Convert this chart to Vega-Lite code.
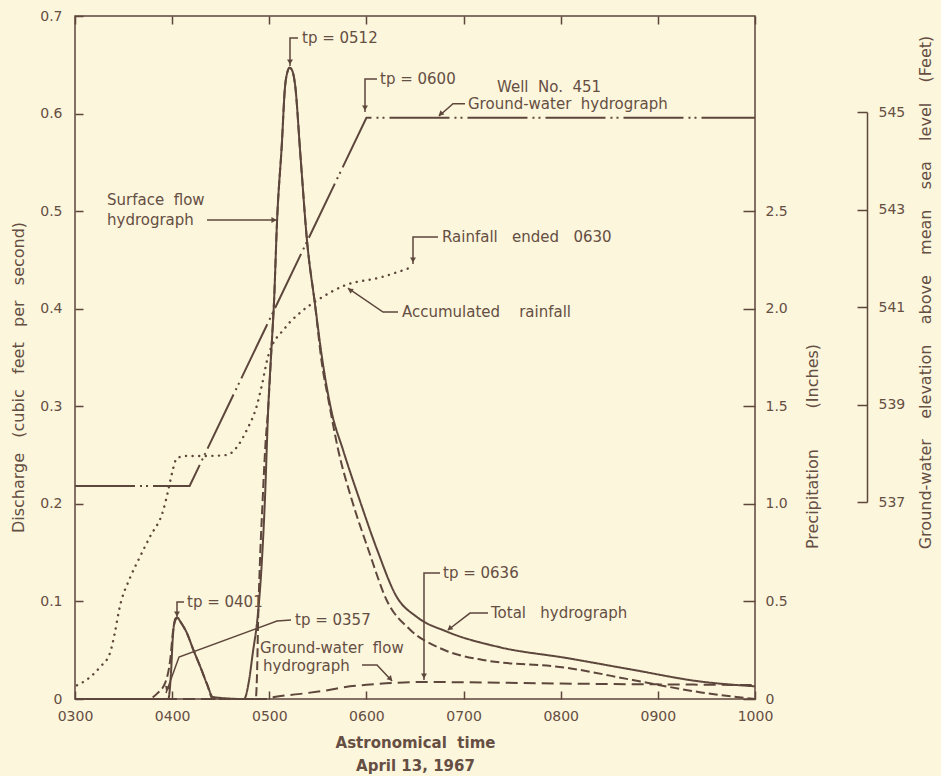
{
  "$schema": "https://vega.github.io/schema/vega-lite/v6.json",
  "width": 680,
  "height": 683,
  "autosize": {"type": "none"},
  "padding": {"left": 75, "top": 16, "right": 186, "bottom": 77},
  "background": "#fcf6dc",
  "config": {
    "view": {"stroke": "#5d463b", "strokeWidth": 1.5},
    "font": "DejaVu Sans",
    "axis": {
      "labelColor": "#654e43", "titleColor": "#654e43", "tickColor": "#5d463b", "domainColor": "#5d463b",
      "labelFont": "DejaVu Sans", "titleFont": "DejaVu Sans", "labelFontSize": 14, "titleFontSize": 16,
      "titleFontWeight": "normal", "grid": false, "tickWidth": 1.5, "domainWidth": 1.5, "labelFlush": false
    }
  },
  "datasets": {
    "flow": [
      {"series": "Total hydrograph", "t": 3.0, "q": 0},
      {"series": "Total hydrograph", "t": 3.96, "q": 0},
      {"series": "Total hydrograph", "t": 3.99, "q": 0.03},
      {"series": "Total hydrograph", "t": 4.005, "q": 0.06},
      {"series": "Total hydrograph", "t": 4.02, "q": 0.077},
      {"series": "Total hydrograph", "t": 4.04, "q": 0.083},
      {"series": "Total hydrograph", "t": 4.06, "q": 0.083},
      {"series": "Total hydrograph", "t": 4.08, "q": 0.08},
      {"series": "Total hydrograph", "t": 4.15, "q": 0.068},
      {"series": "Total hydrograph", "t": 4.22, "q": 0.05},
      {"series": "Total hydrograph", "t": 4.29, "q": 0.033},
      {"series": "Total hydrograph", "t": 4.36, "q": 0.015},
      {"series": "Total hydrograph", "t": 4.42, "q": 0.002},
      {"series": "Total hydrograph", "t": 4.74, "q": 0},
      {"series": "Total hydrograph", "t": 4.79, "q": 0.018},
      {"series": "Total hydrograph", "t": 4.83, "q": 0.047},
      {"series": "Total hydrograph", "t": 4.88, "q": 0.084},
      {"series": "Total hydrograph", "t": 4.92, "q": 0.135},
      {"series": "Total hydrograph", "t": 4.955, "q": 0.204},
      {"series": "Total hydrograph", "t": 4.99, "q": 0.3},
      {"series": "Total hydrograph", "t": 5.02, "q": 0.355},
      {"series": "Total hydrograph", "t": 5.05, "q": 0.41},
      {"series": "Total hydrograph", "t": 5.08, "q": 0.49},
      {"series": "Total hydrograph", "t": 5.13, "q": 0.57},
      {"series": "Total hydrograph", "t": 5.16, "q": 0.625},
      {"series": "Total hydrograph", "t": 5.185, "q": 0.642},
      {"series": "Total hydrograph", "t": 5.21, "q": 0.647},
      {"series": "Total hydrograph", "t": 5.24, "q": 0.643},
      {"series": "Total hydrograph", "t": 5.265, "q": 0.63},
      {"series": "Total hydrograph", "t": 5.32, "q": 0.558},
      {"series": "Total hydrograph", "t": 5.39, "q": 0.468},
      {"series": "Total hydrograph", "t": 5.47, "q": 0.405},
      {"series": "Total hydrograph", "t": 5.55, "q": 0.345},
      {"series": "Total hydrograph", "t": 5.64, "q": 0.295},
      {"series": "Total hydrograph", "t": 5.76, "q": 0.255},
      {"series": "Total hydrograph", "t": 5.93, "q": 0.204},
      {"series": "Total hydrograph", "t": 6.11, "q": 0.153},
      {"series": "Total hydrograph", "t": 6.31, "q": 0.105},
      {"series": "Total hydrograph", "t": 6.52, "q": 0.084},
      {"series": "Total hydrograph", "t": 6.83, "q": 0.069},
      {"series": "Total hydrograph", "t": 7.375, "q": 0.053},
      {"series": "Total hydrograph", "t": 8.06, "q": 0.042},
      {"series": "Total hydrograph", "t": 8.74, "q": 0.03},
      {"series": "Total hydrograph", "t": 9.43, "q": 0.018},
      {"series": "Total hydrograph", "t": 10.0, "q": 0.013},
      {"series": "Surface flow hydrograph", "t": 3.0, "q": 0},
      {"series": "Surface flow hydrograph", "t": 3.75, "q": 0},
      {"series": "Surface flow hydrograph", "t": 3.85, "q": 0.006},
      {"series": "Surface flow hydrograph", "t": 3.93, "q": 0.017},
      {"series": "Surface flow hydrograph", "t": 3.98, "q": 0.04},
      {"series": "Surface flow hydrograph", "t": 4.01, "q": 0.07},
      {"series": "Surface flow hydrograph", "t": 4.04, "q": 0.082},
      {"series": "Surface flow hydrograph", "t": 4.06, "q": 0.083},
      {"series": "Surface flow hydrograph", "t": 4.08, "q": 0.08},
      {"series": "Surface flow hydrograph", "t": 4.15, "q": 0.068},
      {"series": "Surface flow hydrograph", "t": 4.22, "q": 0.05},
      {"series": "Surface flow hydrograph", "t": 4.29, "q": 0.033},
      {"series": "Surface flow hydrograph", "t": 4.36, "q": 0.015},
      {"series": "Surface flow hydrograph", "t": 4.42, "q": 0},
      {"series": "Surface flow hydrograph", "t": 4.86, "q": 0},
      {"series": "Surface flow hydrograph", "t": 4.875, "q": 0.03},
      {"series": "Surface flow hydrograph", "t": 4.885, "q": 0.08},
      {"series": "Surface flow hydrograph", "t": 4.9, "q": 0.13},
      {"series": "Surface flow hydrograph", "t": 4.93, "q": 0.2},
      {"series": "Surface flow hydrograph", "t": 4.96, "q": 0.26},
      {"series": "Surface flow hydrograph", "t": 4.99, "q": 0.3},
      {"series": "Surface flow hydrograph", "t": 5.02, "q": 0.355},
      {"series": "Surface flow hydrograph", "t": 5.05, "q": 0.41},
      {"series": "Surface flow hydrograph", "t": 5.08, "q": 0.49},
      {"series": "Surface flow hydrograph", "t": 5.13, "q": 0.57},
      {"series": "Surface flow hydrograph", "t": 5.16, "q": 0.625},
      {"series": "Surface flow hydrograph", "t": 5.185, "q": 0.642},
      {"series": "Surface flow hydrograph", "t": 5.21, "q": 0.647},
      {"series": "Surface flow hydrograph", "t": 5.24, "q": 0.643},
      {"series": "Surface flow hydrograph", "t": 5.265, "q": 0.63},
      {"series": "Surface flow hydrograph", "t": 5.32, "q": 0.558},
      {"series": "Surface flow hydrograph", "t": 5.39, "q": 0.468},
      {"series": "Surface flow hydrograph", "t": 5.47, "q": 0.405},
      {"series": "Surface flow hydrograph", "t": 5.54, "q": 0.345},
      {"series": "Surface flow hydrograph", "t": 5.61, "q": 0.306},
      {"series": "Surface flow hydrograph", "t": 5.71, "q": 0.255},
      {"series": "Surface flow hydrograph", "t": 5.85, "q": 0.204},
      {"series": "Surface flow hydrograph", "t": 6.02, "q": 0.153},
      {"series": "Surface flow hydrograph", "t": 6.21, "q": 0.101},
      {"series": "Surface flow hydrograph", "t": 6.45, "q": 0.071},
      {"series": "Surface flow hydrograph", "t": 6.76, "q": 0.052},
      {"series": "Surface flow hydrograph", "t": 7.2, "q": 0.04},
      {"series": "Surface flow hydrograph", "t": 8.06, "q": 0.032},
      {"series": "Surface flow hydrograph", "t": 8.74, "q": 0.0195},
      {"series": "Surface flow hydrograph", "t": 9.43, "q": 0.007},
      {"series": "Surface flow hydrograph", "t": 10.0, "q": 0},
      {"series": "Ground-water flow hydrograph", "t": 3.0, "q": 0},
      {"series": "Ground-water flow hydrograph", "t": 5.0, "q": 0},
      {"series": "Ground-water flow hydrograph", "t": 5.05, "q": 0.002},
      {"series": "Ground-water flow hydrograph", "t": 5.3, "q": 0.005},
      {"series": "Ground-water flow hydrograph", "t": 5.6, "q": 0.009},
      {"series": "Ground-water flow hydrograph", "t": 5.83, "q": 0.013},
      {"series": "Ground-water flow hydrograph", "t": 6.0, "q": 0.0145},
      {"series": "Ground-water flow hydrograph", "t": 6.27, "q": 0.0164},
      {"series": "Ground-water flow hydrograph", "t": 6.6, "q": 0.0174},
      {"series": "Ground-water flow hydrograph", "t": 7.0, "q": 0.0172},
      {"series": "Ground-water flow hydrograph", "t": 8.0, "q": 0.0158},
      {"series": "Ground-water flow hydrograph", "t": 9.0, "q": 0.015},
      {"series": "Ground-water flow hydrograph", "t": 10.0, "q": 0.0143}
    ],
    "rain": [
      {"t": 3.02, "p": 0.07}, {"t": 3.15, "p": 0.11}, {"t": 3.26, "p": 0.165}, {"t": 3.36, "p": 0.235},
      {"t": 3.41, "p": 0.34}, {"t": 3.46, "p": 0.47}, {"t": 3.566, "p": 0.62}, {"t": 3.66, "p": 0.72},
      {"t": 3.77, "p": 0.83}, {"t": 3.91, "p": 0.97}, {"t": 3.96, "p": 1.07}, {"t": 4.0, "p": 1.16},
      {"t": 4.05, "p": 1.235}, {"t": 4.15, "p": 1.245}, {"t": 4.32, "p": 1.245}, {"t": 4.56, "p": 1.25},
      {"t": 4.665, "p": 1.29}, {"t": 4.77, "p": 1.38}, {"t": 4.87, "p": 1.5}, {"t": 4.92, "p": 1.6},
      {"t": 4.99, "p": 1.76}, {"t": 5.16, "p": 1.9}, {"t": 5.33, "p": 1.985}, {"t": 5.5, "p": 2.045},
      {"t": 5.78, "p": 2.12}, {"t": 6.14, "p": 2.16}, {"t": 6.48, "p": 2.215}
    ],
    "well": [
      {"t": 3.0, "elev": 537.33}, {"t": 4.18, "elev": 537.33}, {"t": 6.0, "elev": 544.88}, {"t": 10.0, "elev": 544.88}
    ],
    "notes": [
      {"label": "tp = 0512", "t": 5.3368, "q": 0.6775},
      {"label": "tp = 0600", "t": 6.1397, "q": 0.6354},
      {"label": "Well\u00a0 No.\u00a0 451", "t": 7.3441, "q": 0.6272},
      {"label": "Ground-water\u00a0 hydrograph", "t": 7.0456, "q": 0.6098},
      {"label": "Rainfall\u00a0\u00a0 ended\u00a0\u00a0 0630", "t": 6.778, "q": 0.4735},
      {"label": "Accumulated\u00a0\u00a0\u00a0 rainfall", "t": 6.3662, "q": 0.3966},
      {"label": "Surface\u00a0 flow", "t": 3.3294, "q": 0.5114},
      {"label": "hydrograph", "t": 3.3294, "q": 0.4909},
      {"label": "tp = 0401", "t": 4.1529, "q": 0.0994},
      {"label": "tp = 0357", "t": 5.2647, "q": 0.081},
      {"label": "Ground-water\u00a0 flow", "t": 4.9044, "q": 0.0523},
      {"label": "hydrograph", "t": 4.9353, "q": 0.0338},
      {"label": "tp = 0636", "t": 6.7882, "q": 0.1291},
      {"label": "Total\u00a0\u00a0 hydrograph", "t": 7.2824, "q": 0.0881}
    ],
    "leaders": [
      {"id": "L1", "ord": 1, "t": 5.2956, "q": 0.6775}, {"id": "L1", "ord": 2, "t": 5.2132, "q": 0.6775}, {"id": "L1", "ord": 3, "t": 5.2132, "q": 0.6488},
      {"id": "L2", "ord": 1, "t": 6.1088, "q": 0.6354}, {"id": "L2", "ord": 2, "t": 5.9853, "q": 0.6354}, {"id": "L2", "ord": 3, "t": 5.9853, "q": 0.6016},
      {"id": "L3", "ord": 1, "t": 7.0147, "q": 0.6101}, {"id": "L3", "ord": 2, "t": 6.8912, "q": 0.6101}, {"id": "L3", "ord": 3, "t": 6.7471, "q": 0.5975},
      {"id": "L4", "ord": 1, "t": 6.7368, "q": 0.4735}, {"id": "L4", "ord": 2, "t": 6.4794, "q": 0.4735}, {"id": "L4", "ord": 3, "t": 6.4794, "q": 0.4458},
      {"id": "L5", "ord": 1, "t": 6.325, "q": 0.3966}, {"id": "L5", "ord": 2, "t": 6.171, "q": 0.3966}, {"id": "L5", "ord": 3, "t": 5.8103, "q": 0.4212},
      {"id": "L6", "ord": 1, "t": 4.3588, "q": 0.4909}, {"id": "L6", "ord": 2, "t": 5.0691, "q": 0.4909},
      {"id": "L7", "ord": 1, "t": 4.1221, "q": 0.0994}, {"id": "L7", "ord": 2, "t": 4.05, "q": 0.0994}, {"id": "L7", "ord": 3, "t": 4.05, "q": 0.083},
      {"id": "L8", "ord": 1, "t": 5.2235, "q": 0.081}, {"id": "L8", "ord": 2, "t": 5.0794, "q": 0.0799}, {"id": "L8", "ord": 3, "t": 4.0706, "q": 0.043}, {"id": "L8", "ord": 4, "t": 3.9368, "q": 0.0062},
      {"id": "L9", "ord": 1, "t": 5.9544, "q": 0.0349}, {"id": "L9", "ord": 2, "t": 6.1088, "q": 0.0349}, {"id": "L9", "ord": 3, "t": 6.2632, "q": 0.0185},
      {"id": "L10", "ord": 1, "t": 6.7574, "q": 0.1291}, {"id": "L10", "ord": 2, "t": 6.5926, "q": 0.1291}, {"id": "L10", "ord": 3, "t": 6.5926, "q": 0.0195},
      {"id": "L11", "ord": 1, "t": 7.2515, "q": 0.0881}, {"id": "L11", "ord": 2, "t": 7.0662, "q": 0.0881}, {"id": "L11", "ord": 3, "t": 6.8397, "q": 0.0707}
    ],
    "arrows": [
      {"t": 5.2132, "q": 0.6528, "heading": 180},
      {"t": 5.9853, "q": 0.6057, "heading": 180},
      {"t": 6.7625, "q": 0.5995, "heading": 229},
      {"t": 6.4794, "q": 0.4499, "heading": 180},
      {"t": 5.8309, "q": 0.4192, "heading": 304},
      {"t": 5.0485, "q": 0.4909, "heading": 90},
      {"t": 4.05, "q": 0.0871, "heading": 180},
      {"t": 3.9471, "q": 0.0103, "heading": 200},
      {"t": 6.248, "q": 0.0205, "heading": 137},
      {"t": 6.5926, "q": 0.0236, "heading": 180},
      {"t": 6.855, "q": 0.0722, "heading": 232}
    ]
  },
  "layer": [
    {
      "data": {"name": "flow"},
      "mark": {"type": "line", "strokeWidth": 2, "color": "#5d463b", "interpolate": "monotone"},
      "encoding": {
        "x": {"field": "t", "type": "quantitative", "scale": {"domain": [3, 10], "nice": false, "zero": false},
          "axis": {"orient": "bottom", "values": [3, 4, 5, 6, 7, 8, 9, 10],
            "labelExpr": "(datum.value < 10 ? '0' : '') + datum.value + '00'",
            "tickSize": -8, "labelPadding": 18, "domain": false,
            "title": ["Astronomical\u00a0 time", "April 13, 1967"], "titleFontWeight": "bold", "titleFontSize": 15,
            "titleLineHeight": 23, "titleBaseline": "middle", "titleY": 43}},
        "y": {"field": "q", "type": "quantitative", "scale": {"domain": [0, 0.7], "nice": false},
          "axis": {"orient": "left", "values": [0, 0.1, 0.2, 0.3, 0.4, 0.5, 0.6, 0.7],
            "labelExpr": "datum.value == 0 ? '0' : format(datum.value, '.1f')",
            "tickSize": -8, "labelPadding": 21, "domain": false,
            "title": "Discharge\u00a0\u00a0 (cubic\u00a0\u00a0 feet\u00a0\u00a0 per\u00a0\u00a0 second)", "titleAngle": 270,
            "titleX": -57, "titleY": 361, "titleAlign": "center", "titleBaseline": "middle"}},
        "strokeDash": {"field": "series", "type": "nominal",
          "scale": {"domain": ["Total hydrograph", "Surface flow hydrograph", "Ground-water flow hydrograph"],
            "range": [[1, 0], [9, 4], [12, 6]]}, "legend": null}
      }
    },
    {
      "data": {"name": "leaders"},
      "mark": {"type": "line", "strokeWidth": 1.5, "color": "#5d463b"},
      "encoding": {
        "x": {"field": "t", "type": "quantitative", "scale": {"domain": [3, 10], "nice": false, "zero": false}, "axis": null},
        "y": {"field": "q", "type": "quantitative", "scale": {"domain": [0, 0.7], "nice": false}, "axis": null},
        "detail": {"field": "id", "type": "nominal"},
        "order": {"field": "ord", "type": "quantitative"}
      }
    },
    {
      "data": {"name": "arrows"},
      "mark": {"type": "point", "shape": "triangle-up", "filled": true, "size": 35, "color": "#5d463b", "opacity": 1},
      "encoding": {
        "x": {"field": "t", "type": "quantitative", "scale": {"domain": [3, 10], "nice": false, "zero": false}, "axis": null},
        "y": {"field": "q", "type": "quantitative", "scale": {"domain": [0, 0.7], "nice": false}, "axis": null},
        "angle": {"field": "heading", "type": "quantitative", "scale": {"domain": [0, 360], "range": [0, 360]}}
      }
    },
    {
      "data": {"name": "notes"},
      "mark": {"type": "text", "align": "left", "baseline": "middle", "fontSize": 15, "font": "DejaVu Sans", "color": "#654e43"},
      "encoding": {
        "x": {"field": "t", "type": "quantitative", "scale": {"domain": [3, 10], "nice": false, "zero": false}, "axis": null},
        "y": {"field": "q", "type": "quantitative", "scale": {"domain": [0, 0.7], "nice": false}, "axis": null},
        "text": {"field": "label", "type": "nominal"}
      }
    },
    {
      "data": {"name": "rain"},
      "mark": {"type": "line", "strokeWidth": 2.4, "strokeCap": "round", "strokeDash": [0.1, 6.5], "color": "#5d463b", "interpolate": "monotone"},
      "encoding": {
        "x": {"field": "t", "type": "quantitative", "scale": {"domain": [3, 10], "nice": false, "zero": false},
          "axis": {"orient": "top", "values": [3, 4, 5, 6, 7, 8, 9, 10], "labels": false, "tickSize": -8, "domain": false, "title": null}},
        "y": {"field": "p", "type": "quantitative", "scale": {"domain": [0, 3.5], "nice": false},
          "axis": {"orient": "right", "values": [0, 0.5, 1, 1.5, 2, 2.5],
            "labelExpr": "datum.value == 0 ? '0' : format(datum.value, '.1f')",
            "tickSize": -12, "labelPadding": 22, "domain": false,
            "title": "Precipitation\u00a0\u00a0\u00a0\u00a0\u00a0\u00a0\u00a0 (Inches)", "titleAngle": 270, "titleX": 57, "titleY": 430,
            "titleAlign": "center", "titleBaseline": "middle"}}
      }
    },
    {
      "data": {"name": "well"},
      "mark": {"type": "line", "strokeWidth": 2, "strokeDash": [60, 5, 2, 4, 2, 5], "color": "#5d463b"},
      "encoding": {
        "x": {"field": "t", "type": "quantitative", "scale": {"domain": [3, 10], "nice": false, "zero": false}, "axis": null},
        "y": {"field": "elev", "type": "quantitative", "scale": {"domain": [537, 545], "range": [486, 96], "nice": false, "zero": false},
          "axis": {"orient": "right", "offset": 112, "values": [537, 539, 541, 543, 545],
            "tickSize": -10, "labelPadding": 21, "domain": true,
            "title": "Ground-water\u00a0\u00a0\u00a0 elevation\u00a0\u00a0\u00a0 above\u00a0\u00a0\u00a0 mean\u00a0\u00a0\u00a0 sea\u00a0\u00a0\u00a0 level\u00a0\u00a0\u00a0 (Feet)", "titleAngle": 270,
            "titleX": 58, "titleY": 276, "titleAlign": "center", "titleBaseline": "middle"}}
      }
    }
  ],
  "resolve": {"scale": {"y": "independent"}, "axis": {"x": "independent"}}
}
